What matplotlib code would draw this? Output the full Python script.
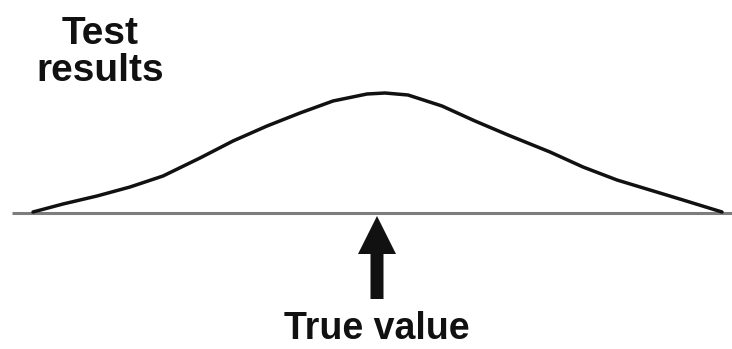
import matplotlib
matplotlib.use("Agg")
import matplotlib.pyplot as plt

# curve: position (px across) and height above the baseline (px)
curve_x = [33, 63, 97, 130, 163, 200, 233, 267, 300, 333, 367, 385,
           408, 442, 475, 508, 550, 583, 617, 650, 683, 722]
curve_h = [1, 9, 17, 26, 37, 55, 72, 87, 100, 112, 119, 120,
           118, 107, 92, 78, 61, 46, 33, 23, 13, 1]

true_value_x = 377
baseline_span = [12, 732]

label_top = "Test\nresults"
label_bottom = "True value"

plt.rcParams['font.family'] = ['Liberation Sans', 'DejaVu Sans']

fig = plt.figure(figsize=(7.32, 3.49), dpi=100)
ax = fig.add_axes([0, 0, 1, 1])
ax.set_xlim(0, 732)
ax.set_ylim(-136, 213)
ax.axis('off')

# baseline
ax.plot(baseline_span, [0, 0], color='#7d7d7d', linewidth=2.2, solid_capstyle='butt')

# bell curve
ax.plot(curve_x, curve_h, color='#111111', linewidth=2.5,
        solid_joinstyle='round', solid_capstyle='round')

# arrow pointing at the true value
ax.arrow(true_value_x, -86, 0, 83, width=13, head_width=38, head_length=38,
         length_includes_head=True, color='#111111', linewidth=0)

ax.text(100, 197, label_top, ha='center', va='top', fontsize=28,
        fontweight='bold', linespacing=1.02, color='#111111')
ax.text(true_value_x, -134, label_bottom, ha='center', va='bottom', fontsize=27,
        fontweight='bold', color='#111111')

fig.savefig('out.png', dpi=100)
